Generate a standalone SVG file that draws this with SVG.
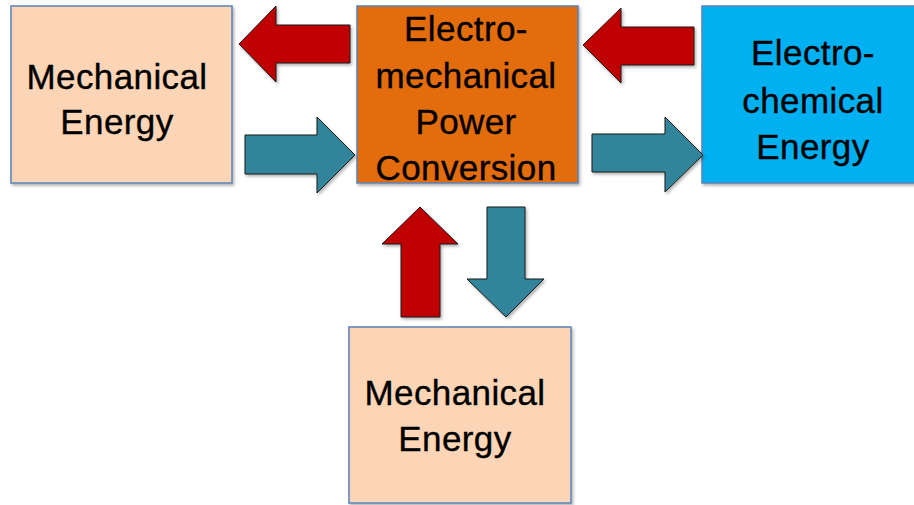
<svg xmlns="http://www.w3.org/2000/svg" width="914" height="505" viewBox="0 0 914 505">
<defs>
<filter id="sh" x="-10%" y="-10%" width="130%" height="130%">
<feDropShadow dx="1.5" dy="2" stdDeviation="1.5" flood-color="#000" flood-opacity="0.3"/>
</filter>
</defs>
<style>
.box{stroke:#5a82b8;stroke-width:1.5;filter:url(#sh)}
.peach{fill:#FBD5B5}
.orange{fill:#E36C09}
.blue{fill:#00B0F0}
.red{fill:#C00000;stroke:#1a1a1a;stroke-width:1;filter:url(#sh)}
.teal{fill:#31849B;stroke:#1a1a1a;stroke-width:1;filter:url(#sh)}
text{font-family:"Liberation Sans",Arial,sans-serif;font-size:35px;letter-spacing:0.4px;fill:#000;stroke:#000;stroke-width:0.35;text-anchor:middle}
</style>
<rect width="914" height="505" fill="#fff"/>
<g id="mech-left">
<rect class="box peach" x="11" y="6" width="221" height="177"/>
<text x="117" y="89">Mechanical</text>
<text x="117" y="134">Energy</text>
</g>
<g id="conversion">
<rect class="box orange" x="357" y="6" width="221" height="177"/>
<text x="466" y="41">Electro-</text>
<text x="466" y="88">mechanical</text>
<text x="466" y="134">Power</text>
<text x="466" y="180">Conversion</text>
</g>
<g id="electrochem">
<rect class="box blue" x="702" y="6" width="214" height="177"/>
<text x="813" y="65">Electro-</text>
<text x="813" y="113">chemical</text>
<text x="813" y="159">Energy</text>
</g>
<g id="mech-bottom">
<rect class="box peach" x="349" y="327" width="222" height="176"/>
<text x="455" y="405">Mechanical</text>
<text x="455" y="451">Energy</text>
</g>
<g id="connectors">
<polygon class="red" points="239,44 276,6 276,25 350,25 350,63 276,63 276,82"/>
<polygon class="teal" points="245,135 317,135 317,117 355,155 317,193 317,174 245,174"/>
<polygon class="red" points="583,45 621,8 621,27 694,27 694,65 621,65 621,83"/>
<polygon class="teal" points="592,134 665,134 665,117 703,155 665,192 665,172 592,172"/>
<polygon class="red" points="420,207 458,244 440,244 440,317 401,317 401,244 382,244"/>
<polygon class="teal" points="487,207 525,207 525,279 544,279 506,317 467,279 487,279"/>
</g>
</svg>
